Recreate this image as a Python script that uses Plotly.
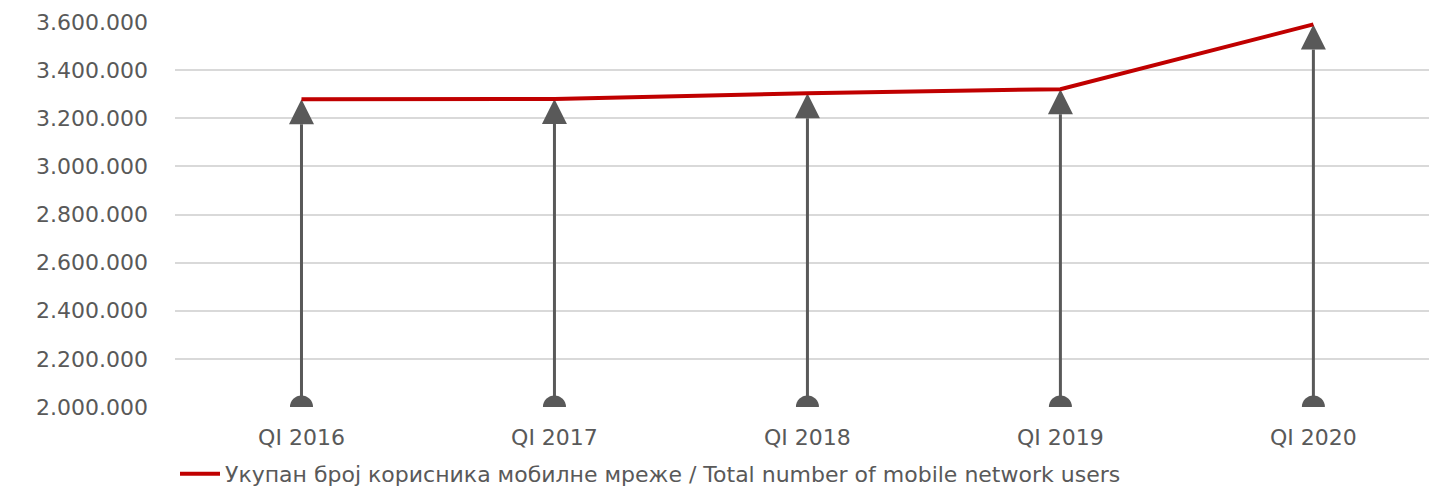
import plotly.graph_objects as go

categories = ["QI 2016", "QI 2017", "QI 2018", "QI 2019", "QI 2020"]
users = [3279000, 3280000, 3304000, 3321000, 3590000]
axis_min = 2000000
axis_max = 3600000
tick_values = [2000000, 2200000, 2400000, 2600000, 2800000, 3000000, 3200000, 3400000, 3600000]
series_name = "Укупан број корисника мобилне мреже / Total number of mobile network users"

GREY = "#595959"
RED = "#C00000"
FONT = "DejaVu Sans"

fig = go.Figure()

for cat, val in zip(categories, users):
    fig.add_trace(go.Scatter(
        x=[cat, cat], y=[axis_min, val],
        mode="lines+markers",
        line=dict(color=GREY, width=3),
        marker=dict(symbol=["circle", "arrow-up"], size=[23, 25], color=GREY,
                    opacity=1, line=dict(width=0)),
        showlegend=False, hoverinfo="skip",
    ))

fig.add_trace(go.Scatter(
    x=categories, y=users, mode="lines", name=series_name,
    line=dict(color=RED, width=4),
))

fig.update_layout(
    width=1429, height=495,
    margin=dict(l=175, r=0, t=22, b=88),
    paper_bgcolor="white", plot_bgcolor="white",
    separators=",.",
    font=dict(family=FONT, color=GREY, size=22),
    showlegend=True,
    legend=dict(orientation="h", x=0, xanchor="left", xref="paper",
                y=-0.014, yanchor="bottom", yref="container",
                font=dict(family=FONT, size=22, color=GREY), itemwidth=40),
    xaxis=dict(range=[-0.5, 4.457], showgrid=False, zeroline=False, showline=False,
               ticks="", tickfont=dict(family=FONT, size=22, color=GREY),
               ticklabelstandoff=15),
    yaxis=dict(range=[axis_min, axis_max], tickvals=tick_values, tickformat=",d",
               showgrid=True, gridcolor="#D9D9D9", gridwidth=2, zeroline=False,
               showline=False, ticks="", tickfont=dict(family=FONT, size=22, color=GREY),
               ticklabelstandoff=26),
)

fig.write_html("out.html", config={"displayModeBar": False},
               post_script="document.body.style.margin='0';")
